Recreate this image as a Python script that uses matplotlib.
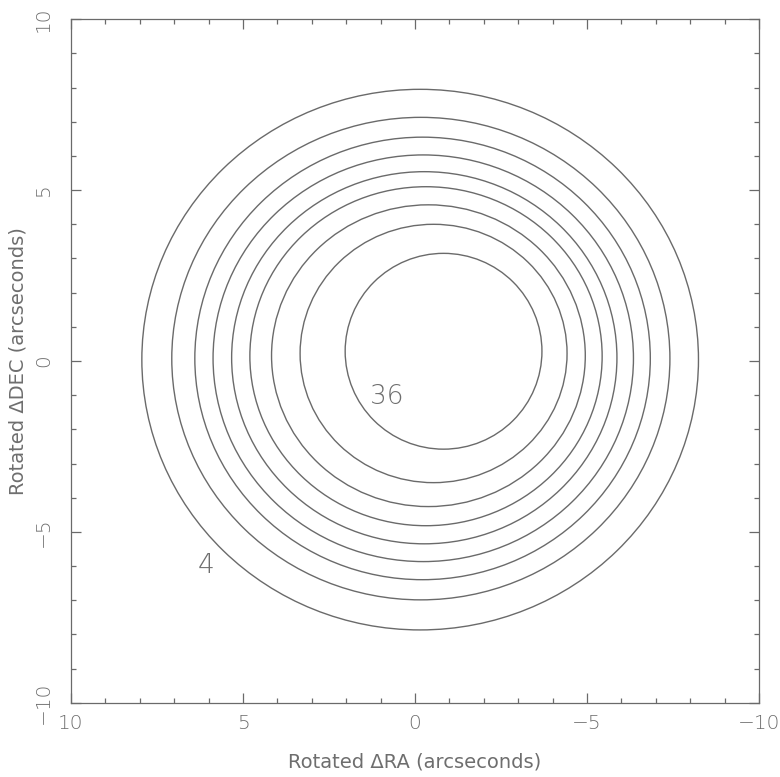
import matplotlib
matplotlib.use("Agg")
import matplotlib.pyplot as plt
from matplotlib.patches import Ellipse
from matplotlib.ticker import MultipleLocator

# contour levels and the fitted centre / semi-axes of each closed contour
levels = [4, 8, 12, 16, 20, 24, 28, 32, 36]
cx = [-0.15, -0.17, -0.22, -0.24, -0.27, -0.32, -0.39, -0.54, -0.83]
cy = [0.04, 0.07, 0.075, 0.08, 0.095, 0.14, 0.155, 0.22, 0.285]
rx = [8.09, 7.24, 6.62, 6.11, 5.60, 5.12, 4.56, 3.88, 2.86]
ry = [7.91, 7.06, 6.475, 5.95, 5.445, 4.96, 4.415, 3.78, 2.865]

# which levels get a label, and where
label_levels = [4, 36]
label_x = [6.06, 0.81]
label_y = [-5.97, -1.05]

ink = "#6a6a6a"
txt = "#6e6e6e"
plt.rcParams["font.family"] = ["DejaVu Sans"]
plt.rcParams["font.weight"] = "light"

fig = plt.figure(figsize=(7.8, 7.77), dpi=100)
ax = fig.add_axes([0.0910, 0.0956, 0.8821, 0.8796])

for i in range(len(levels)):
    ax.add_patch(Ellipse((cx[i], cy[i]), 2 * rx[i], 2 * ry[i],
                         fill=False, ec=ink, lw=1.0))

for lev, lx, ly in zip(label_levels, label_x, label_y):
    ax.text(lx, ly, str(lev), ha="center", va="center",
            fontsize=19, color=txt)

ax.set_xlim(10, -10)
ax.set_ylim(-10, 10)
ax.xaxis.set_major_locator(MultipleLocator(5))
ax.xaxis.set_minor_locator(MultipleLocator(1))
ax.yaxis.set_major_locator(MultipleLocator(5))
ax.yaxis.set_minor_locator(MultipleLocator(1))

ax.tick_params(which="both", direction="in", top=True, right=True,
               color=ink, labelcolor=txt, labelsize=14.5, width=0.9)
ax.tick_params(which="major", length=7)
ax.tick_params(which="minor", length=3.5)
ax.tick_params(axis="x", pad=8)
ax.tick_params(axis="y", pad=13)
for lab in ax.get_yticklabels():
    lab.set_rotation(90)
    lab.set_va("center")
for sp in ax.spines.values():
    sp.set_color(ink)
    sp.set_linewidth(0.9)

ax.set_xlabel("Rotated \u0394RA (arcseconds)", fontsize=14, color=txt,
              labelpad=14)
ax.set_ylabel("Rotated \u0394DEC (arcseconds)", fontsize=14, color=txt,
              va="center")
ax.yaxis.set_label_coords(-0.077, 0.5)

fig.savefig("out.png", dpi=100, facecolor="white")
